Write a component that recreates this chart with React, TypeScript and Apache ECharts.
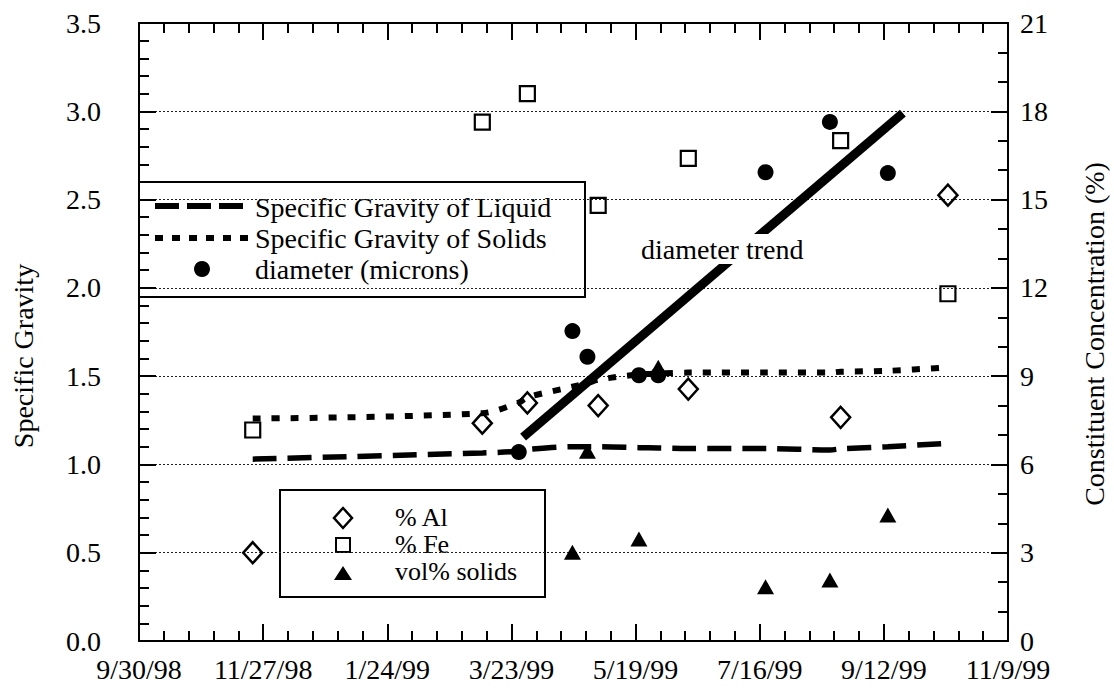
import React, { useEffect, useRef } from "react";
import * as echarts from "echarts";

// Day offsets are counted from the left end of the date axis (30 Sep 1998).
const AXIS_START = Date.UTC(1998, 8, 30);
const dayOf = (iso: string) => (Date.parse(iso + "T00:00:00Z") - AXIS_START) / 86400000;

const axisSpanDays = 405;
const dateTickLabels = ["9/30/98", "11/27/98", "1/24/99", "3/23/99", "5/19/99", "7/16/99", "9/12/99", "11/9/99"];

// Specific gravity (left axis)
const sgDates = [
  "1998-11-22", "1999-03-09", "1999-03-26", "1999-03-30", "1999-04-20", "1999-04-27", "1999-05-02",
  "1999-05-21", "1999-05-30", "1999-06-13", "1999-07-19", "1999-08-18", "1999-08-23", "1999-09-14", "1999-10-12",
];
const sgLiquid = [1.03, 1.065, 1.075, 1.085, 1.1, 1.1, 1.1, 1.095, 1.093, 1.09, 1.09, 1.082, 1.088, 1.1, 1.12];
const sgSolids = [1.26, 1.29, 1.35, 1.38, 1.44, 1.46, 1.48, 1.51, 1.515, 1.52, 1.52, 1.52, 1.525, 1.53, 1.55];

// Particle diameter (plotted on the left scale)
const diameterDates = ["1999-03-26", "1999-04-20", "1999-04-27", "1999-05-21", "1999-05-30", "1999-07-19", "1999-08-18", "1999-09-14"];
const diameterValues = [1.07, 1.755, 1.61, 1.505, 1.505, 2.655, 2.94, 2.65];

// Linear trend through the diameter data
const trendDates = ["1999-03-28", "1999-09-21"];
const trendValues = [1.155, 2.99];

// Constituent concentrations (right axis, %)
const chemDates = ["1998-11-22", "1999-03-09", "1999-03-30", "1999-05-02", "1999-06-13", "1999-08-23", "1999-10-12"];
const aluminumPct = [3.0, 7.4, 8.09, 8.0, 8.56, 7.6, 15.15];
const ironPct = [7.17, 17.63, 18.6, 14.8, 16.4, 17.0, 11.8];

const solidsDates = ["1999-04-20", "1999-04-27", "1999-05-21", "1999-05-30", "1999-07-19", "1999-08-18", "1999-09-14"];
const solidsVolPct = [3.02, 6.45, 3.47, 9.3, 1.84, 2.07, 4.28];

const pair = (dates: string[], values: number[]) => dates.map((d, i) => [dayOf(d), values[i]]);

const FAMILY = "Liberation Serif";
const font = (px: number) => `${px}px 'Liberation Serif', serif`;
const INK = "#000";

export default function App() {
  const ref = useRef<HTMLDivElement | null>(null);

  useEffect(() => {
    document.body.style.margin = "0";
    if (!ref.current) return;
    const chart = echarts.init(ref.current, undefined, { renderer: "svg" });
    const step = axisSpanDays / (dateTickLabels.length - 1);

    const tick = () => ({ show: true, inside: true, length: 17, lineStyle: { color: INK, width: 2 } });
    const minor = (n: number) => ({ show: true, splitNumber: n, length: 10, lineStyle: { color: INK, width: 2 } });

    const xBase = () => ({
      type: "value" as const,
      min: 0,
      max: axisSpanDays,
      interval: step,
      axisLine: { show: true, onZero: false, lineStyle: { color: INK, width: 2 } },
      axisTick: tick(),
      minorTick: minor(5),
      splitLine: { show: false },
    });

    const option: any = {
      animation: false,
      backgroundColor: "#fff",
      textStyle: { fontFamily: FAMILY },
      grid: { left: 139, right: 106, top: 23, bottom: 51, outerBoundsMode: "none" },
      xAxis: [
        {
          ...xBase(),
          position: "bottom",
          axisLabel: {
            show: true,
            margin: 14,
            color: INK,
            fontFamily: FAMILY,
            fontSize: 28,
            showMinLabel: true,
            showMaxLabel: true,
            hideOverlap: false,
            formatter: (v: number) => dateTickLabels[Math.round(v / step)] ?? "",
          },
        },
        { ...xBase(), position: "top", axisLabel: { show: false } },
      ],
      yAxis: [
        {
          type: "value",
          position: "left",
          min: 0,
          max: 3.5,
          interval: 0.5,
          axisLine: { show: true, onZero: false, lineStyle: { color: INK, width: 2 } },
          axisTick: tick(),
          minorTick: minor(5),
          splitLine: { show: true, lineStyle: { color: "#222", width: 1, type: [2, 2] } },
          axisLabel: {
            margin: 38,
            color: INK,
            fontFamily: FAMILY,
            fontSize: 28,
            formatter: (v: number) => v.toFixed(1),
          },
        },
        {
          type: "value",
          position: "right",
          min: 0,
          max: 21,
          interval: 3,
          axisLine: { show: true, onZero: false, lineStyle: { color: INK, width: 2 } },
          axisTick: tick(),
          minorTick: minor(3),
          splitLine: { show: false },
          axisLabel: { margin: 12, color: INK, fontFamily: FAMILY, fontSize: 28 },
        },
      ],
      series: [
        {
          name: "Specific Gravity of Liquid",
          type: "line",
          yAxisIndex: 0,
          data: pair(sgDates, sgLiquid),
          showSymbol: false,
          smooth: 0.3,
          lineStyle: { color: INK, width: 5.5, type: [24, 11], cap: "butt" },
          z: 3,
        },
        {
          name: "Specific Gravity of Solids",
          type: "line",
          yAxisIndex: 0,
          data: pair(sgDates, sgSolids),
          showSymbol: false,
          smooth: 0.3,
          lineStyle: { color: INK, width: 6, type: [8, 11], cap: "butt" },
          z: 3,
        },
        {
          name: "diameter trend",
          type: "line",
          yAxisIndex: 0,
          data: pair(trendDates, trendValues),
          showSymbol: false,
          lineStyle: { color: INK, width: 9, cap: "butt" },
          z: 4,
        },
        {
          name: "diameter (microns)",
          type: "scatter",
          yAxisIndex: 0,
          data: pair(diameterDates, diameterValues),
          symbol: "circle",
          symbolSize: 16,
          itemStyle: { color: INK, opacity: 1 },
          z: 5,
        },
        {
          name: "% Al",
          type: "scatter",
          yAxisIndex: 1,
          data: pair(chemDates, aluminumPct),
          symbol: "diamond",
          symbolSize: [19, 21],
          itemStyle: { color: "rgba(255,255,255,0)", borderColor: INK, borderWidth: 2.5, opacity: 1 },
          z: 5,
        },
        {
          name: "% Fe",
          type: "scatter",
          yAxisIndex: 1,
          data: pair(chemDates, ironPct),
          symbol: "rect",
          symbolSize: 15,
          itemStyle: { color: "rgba(255,255,255,0)", borderColor: INK, borderWidth: 2.2, opacity: 1 },
          z: 5,
        },
        {
          name: "vol% solids",
          type: "scatter",
          yAxisIndex: 1,
          data: pair(solidsDates, solidsVolPct),
          symbol: "triangle",
          symbolSize: [17, 15],
          itemStyle: { color: INK, opacity: 1 },
          z: 5,
        },
      ],
      graphic: [
        // axis titles
        {
          type: "text",
          x: 23,
          y: 356,
          rotation: Math.PI / 2,
          style: { text: "Specific Gravity", font: font(28), fill: INK, align: "center", verticalAlign: "middle" },
        },
        {
          type: "text",
          x: 1094,
          y: 334,
          rotation: Math.PI / 2,
          style: { text: "Constituent Concentration (%)", font: font(28), fill: INK, align: "center", verticalAlign: "middle" },
        },
        // trend annotation on a white box so the trend line passes behind it
        {
          type: "text",
          x: 639,
          y: 249,
          z: 20,
          style: {
            text: "diameter trend",
            font: font(28),
            fill: INK,
            align: "left",
            verticalAlign: "middle",
            backgroundColor: "#fff",
            padding: [1, 2, 1, 2],
          },
        },
        // legend for the specific gravity group
        {
          type: "group",
          z: 30,
          children: [
            { type: "rect", shape: { x: 139, y: 182, width: 446, height: 115 }, style: { fill: "#fff", stroke: INK, lineWidth: 2 } },
            { type: "line", shape: { x1: 155, y1: 206, x2: 250, y2: 206 }, style: { stroke: INK, lineWidth: 6, lineDash: [24, 8] } },
            { type: "line", shape: { x1: 155, y1: 238, x2: 250, y2: 238 }, style: { stroke: INK, lineWidth: 6, lineDash: [8, 9] } },
            { type: "circle", shape: { cx: 202, cy: 269, r: 8 }, style: { fill: INK } },
            { type: "text", x: 255, y: 207, style: { text: "Specific Gravity of Liquid", font: font(28), fill: INK, verticalAlign: "middle" } },
            { type: "text", x: 255, y: 238, style: { text: "Specific Gravity of Solids", font: font(28), fill: INK, verticalAlign: "middle" } },
            { type: "text", x: 255, y: 269, style: { text: "diameter (microns)", font: font(28), fill: INK, verticalAlign: "middle" } },
          ],
        },
        // legend for the concentration group
        {
          type: "group",
          z: 30,
          children: [
            { type: "rect", shape: { x: 280, y: 490, width: 265, height: 107 }, style: { fill: "#fff", stroke: INK, lineWidth: 2 } },
            { type: "polygon", shape: { points: [[343, 508], [352, 518], [343, 528], [334, 518]] }, style: { fill: "none", stroke: INK, lineWidth: 2.5 } },
            { type: "rect", shape: { x: 336, y: 538, width: 14, height: 14 }, style: { fill: "none", stroke: INK, lineWidth: 2 } },
            { type: "polygon", shape: { points: [[343, 566], [352, 580], [334, 580]] }, style: { fill: INK } },
            { type: "text", x: 395, y: 517, style: { text: "% Al", font: font(26), fill: INK, verticalAlign: "middle" } },
            { type: "text", x: 395, y: 544, style: { text: "% Fe", font: font(26), fill: INK, verticalAlign: "middle" } },
            { type: "text", x: 395, y: 571, style: { text: "vol% solids", font: font(26), fill: INK, verticalAlign: "middle" } },
          ],
        },
      ],
    };

    chart.setOption(option);
    return () => chart.dispose();
  }, []);

  return <div ref={ref} style={{ width: 1114, height: 692 }} />;
}
